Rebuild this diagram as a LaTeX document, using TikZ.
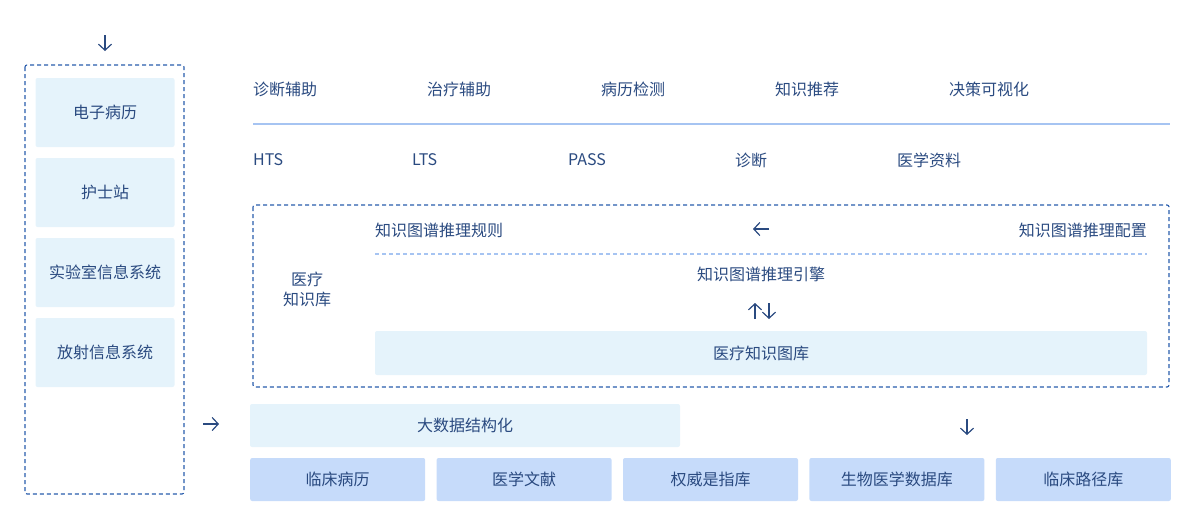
\documentclass[tikz,border=0pt]{standalone}
\usepackage{fontspec}
\setmainfont{Noto Sans CJK SC}
\usetikzlibrary{positioning,arrows.meta}
\definecolor{mytext}{RGB}{42,74,128}
\definecolor{mydash}{RGB}{40,92,172}
\definecolor{mylight}{RGB}{229,243,251}
\definecolor{myblue}{RGB}{198,219,250}
\definecolor{myline}{RGB}{166,196,242}

\begin{document}
\begin{tikzpicture}[x=1pt,y=-1pt,
    every node/.style={text=mytext,font=\fontsize{16}{19}\selectfont},
    lbl/.style={anchor=west,inner sep=0pt},
    glyph/.style={draw=mytext,line width=1.2pt,-{Straight Barb[length=6pt,width=13pt]}},
    srcbox/.style={fill=mylight,rounded corners=2pt,minimum width=139pt,minimum height=69pt},
    libbox/.style={fill=myblue,rounded corners=2pt,minimum width=175pt,minimum height=43pt,anchor=west},
    dashbox/.style={draw=mydash,dash pattern=on 4pt off 3pt,rounded corners=2pt,line width=1.1pt}]
    \useasboundingbox (0,0) rectangle (1200,520);

    % left column: source systems
    \draw[dashbox] (25,65) rectangle (184,494);
    \coordinate (inarrow) at (105,43);
    \draw[glyph] ([yshift=8pt]inarrow) -- ([yshift=-8pt]inarrow);
    \foreach \name/\txt [count=\i] in {emr/电子病历,nurse/护士站,lis/实验室信息系统,ris/放射信息系统}
    {
      \node[srcbox] (\name) at (105,32.5+80*\i) {\txt};
    }

    % applications
    \foreach \name/\txt [count=\i] in {diag/诊断辅助,treat/治疗辅助,check/病历检测,recom/知识推荐,visu/决策可视化}
    {
      \node[lbl] (\name) at (79+174*\i,89) {\txt};
    }
    \draw[myline,line width=1.5pt] (253,124) -- (1170,124);
    \foreach \name/\txt/\x in {hts/HTS/253,lts/LTS/412,pass/PASS/568,zd/诊断/735,data/医学资料/897}
    {
      \node[lbl] (\name) at (\x,160) {\txt};
    }

    % knowledge base
    \draw[dashbox] (253,205) rectangle (1169,387);
    \node[align=center,inner sep=0pt] (kb) at (307,289) {医疗\\[1pt]知识库};
    \node[lbl] (rule) at (375,230) {知识图谱推理规则};
    \node[lbl,anchor=east] (conf) at (1147,230) {知识图谱推理配置};
    \coordinate (confarrow) at (761,229);
    \draw[glyph] ([xshift=8pt]confarrow) -- ([xshift=-8pt]confarrow);
    \draw[myline,line width=1.1pt,dash pattern=on 4pt off 3pt] (375,254) -- (1147,254);
    \node[inner sep=0pt] (engine) at (761,274) {知识图谱推理引擎};
    \coordinate (engarrow) at (762,311);
    \draw[glyph] ([xshift=-7pt,yshift=-8pt]engarrow) -- ([xshift=-7pt,yshift=8pt]engarrow);
    \draw[glyph] ([xshift=7pt,yshift=8pt]engarrow) -- ([xshift=7pt,yshift=-8pt]engarrow);
    \node[fill=mylight,rounded corners=2pt,minimum width=772pt,minimum height=44pt]
      (graph) at (761,353) {医疗知识图库};

    % structuring and libraries
    \coordinate (bdarrow) at (211,424);
    \draw[glyph] ([xshift=-8pt]bdarrow) -- ([xshift=8pt]bdarrow);
    \node[fill=mylight,rounded corners=2pt,minimum width=430pt,minimum height=43pt]
      (bigdata) at (465,425.5) {大数据结构化};
    \coordinate (libarrow) at (967,427);
    \draw[glyph] ([yshift=8pt]libarrow) -- ([yshift=-8pt]libarrow);
    \node[libbox] (lib1) at (250,479.5) {临床病历};
    \node[libbox,right=11pt of lib1] (lib2) {医学文献};
    \node[libbox,right=11pt of lib2] (lib3) {权威是指库};
    \node[libbox,right=11pt of lib3] (lib4) {生物医学数据库};
    \node[libbox,right=11pt of lib4] (lib5) {临床路径库};
\end{tikzpicture}
\end{document}
